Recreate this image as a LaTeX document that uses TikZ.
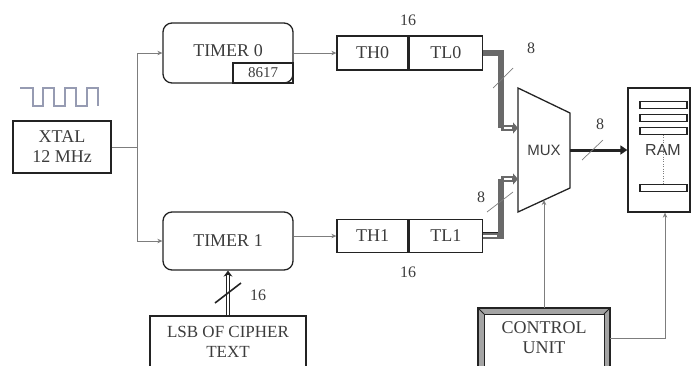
\documentclass[tikz,border=0pt]{standalone}
\usepackage{fontspec}
\setmainfont{Liberation Serif}
\newfontfamily\muxfont{Liberation Sans}
\usetikzlibrary{arrows.meta}
\definecolor{ink}{RGB}{35,35,35}
\definecolor{txt}{RGB}{60,60,60}
\definecolor{wire}{RGB}{125,125,125}
\definecolor{bus}{RGB}{105,105,105}
\definecolor{wave}{RGB}{150,155,178}

\tikzset{
  blk/.style={draw=ink, line width=1.3pt, align=center, inner sep=0pt,
    text=txt, font=\fontsize{18}{20}\selectfont},
  tmr/.style={blk, rounded corners=9pt},
  conn/.style={draw=wire, line width=0.8pt},
  buswire/.style={draw=bus, line width=6pt},
  slash/.style={draw=wire, line width=0.7pt},
  num/.style={text=txt, font=\fontsize{16}{18}\selectfont},
  >={Stealth[length=5pt,width=4.5pt]}
}

\begin{document}
\begin{tikzpicture}[x=1pt,y=-1pt]
    \useasboundingbox (0,0) rectangle (691,365);

    % clock
    \draw[wave, line width=1.2pt] (20,88) -- (33,88) -- (33,106) -- (43,106)
      -- (43,88) -- (54,88) -- (54,106) -- (65,106) -- (65,88) -- (76,88)
      -- (76,106) -- (87,106) -- (87,88) -- (98,88) -- (98,106);
    \node[blk, line width=1.8pt, minimum width=98, minimum height=52]
      (xtal) at (62,147) {XTAL\\12 MHz};

    % timers
    \node[tmr, minimum width=130, minimum height=60] (timer0) at (228,53)
      {\raisebox{5pt}{TIMER 0}};
    \node[blk, line width=1.1pt, minimum width=60, minimum height=20,
      font=\fontsize{15}{17}\selectfont] (seed) at (263,73) {8617};
    \node[tmr, minimum width=130, minimum height=58] (timer1) at (228,241)
      {TIMER 1};

    % counter registers
    \node[blk, minimum width=71, minimum height=34] (th0) at (372.5,53) {TH0};
    \node[blk, minimum width=73, minimum height=34, anchor=west]
      (tl0) at (th0.east) {TL0};
    \node[blk, minimum width=71, minimum height=33] (th1) at (372.5,236) {TH1};
    \node[blk, minimum width=73, minimum height=33, anchor=west]
      (tl1) at (th1.east) {TL1};
    \node[num] (w0) at (408,20) {16};
    \node[num] (w1) at (408,272) {16};

    % key input
    \node[blk, minimum width=156, minimum height=52,
      font=\fontsize{17}{20}\selectfont] (lsb) at (228,342)
      {LSB OF CIPHER\\TEXT};

    % clock distribution
    \coordinate (split) at (137,147);
    \draw[conn] (xtal.east) -- (split);
    \draw[conn,->] (split) |- (timer0.west);
    \draw[conn,->] (split) |- (timer1.west);
    \draw[conn,->] (timer0.east) -- (th0.west);
    \draw[conn,->] (timer1.east |- th1.west) -- (th1.west);

    % 16 bit key
    \draw[ink, line width=0.9pt, double=white, double distance=2.5pt,
      -{Stealth[length=6pt,width=9pt]}] (lsb.north) -- (timer1.south);
    \draw[ink, line width=1.6pt] (215,303) -- (241,283);
    \node[num] (w2) at (258,295) {16};

    % mux
    \draw[ink, line width=1.3pt] (518,88) -- (570,113) -- (570,188)
      -- (518,212) -- cycle;
    \node[text=txt, font=\muxfont\fontsize{15}{17}\selectfont] (mux)
      at (544,150) {MUX};
    \coordinate (in0) at (518,128);
    \coordinate (in1) at (518,179);
    \coordinate (sel) at (544,200);
    \coordinate (out) at (570,150);

    % buses into mux
    \draw[buswire] (tl0.east) -- (501,53) -- (501,128);
    \draw[buswire] (tl1.east) -- (501,236) -- (501,179);
    \draw[ink, line width=0.6pt] (tl1.east) ++(0,-3.5) -- (498,232.5);
    \draw[white, line width=1.6pt] (tl1.east) -- (497,236);
    \foreach \p in {in0,in1} {
      \draw[bus, line width=6pt, -{Triangle[length=5pt,width=11pt]}]
        (501,0 |- \p) -- (\p);
      \draw[white, line width=2.4pt] (504,0 |- \p) -- ([xshift=-6]\p);
    }
    \draw[slash] (493,88) -- (513,68);
    \node[num] (w3) at (531,48) {8};
    \draw[slash] (487,212) -- (513,192);
    \node[num] (w4) at (481,197) {8};

    % ram
    \node[draw=ink, line width=1.3pt, minimum width=62, minimum height=124,
      text=txt, font=\muxfont\fontsize{16}{18}\selectfont] (ram) at (659,150)
      {\hspace*{8pt}RAM};
    \foreach \y in {105,118,131,188}
      \draw[ink, line width=1.5pt, fill=white] (640,\y-3.5) rectangle (687,\y+3.5);
    \draw[wire, dotted] (663,135) -- (663,184);
    \draw[ink, line width=3pt, -{Triangle[length=7pt,width=9pt]}]
      (out) -- (ram.west |- out);
    \draw[slash] (582,160) -- (603,140);
    \node[num] (w5) at (600,124) {8};

    % control unit
    \fill[wire!70] (478,308) rectangle (610,366);
    \fill[white] (484,314) rectangle (604,366);
    \draw[ink, line width=1.5pt] (478,366) -- (478,308) -- (610,308) -- (610,366);
    \draw[ink, line width=0.9pt] (484,366) -- (484,314) -- (604,314) -- (604,366);
    \draw[ink, line width=0.8pt] (478,308) -- (484,314) (610,308) -- (604,314);
    \node[text=txt, align=center, font=\fontsize{18}{20}\selectfont]
      (cu) at (544,338) {CONTROL\\UNIT};
    \coordinate (cutop) at (544,308);
    \coordinate (curight) at (610,338);
    \draw[conn,->] (cutop) -- (sel);
    \draw[conn,->] (curight) -| ([xshift=6]ram.south);
\end{tikzpicture}
\end{document}
